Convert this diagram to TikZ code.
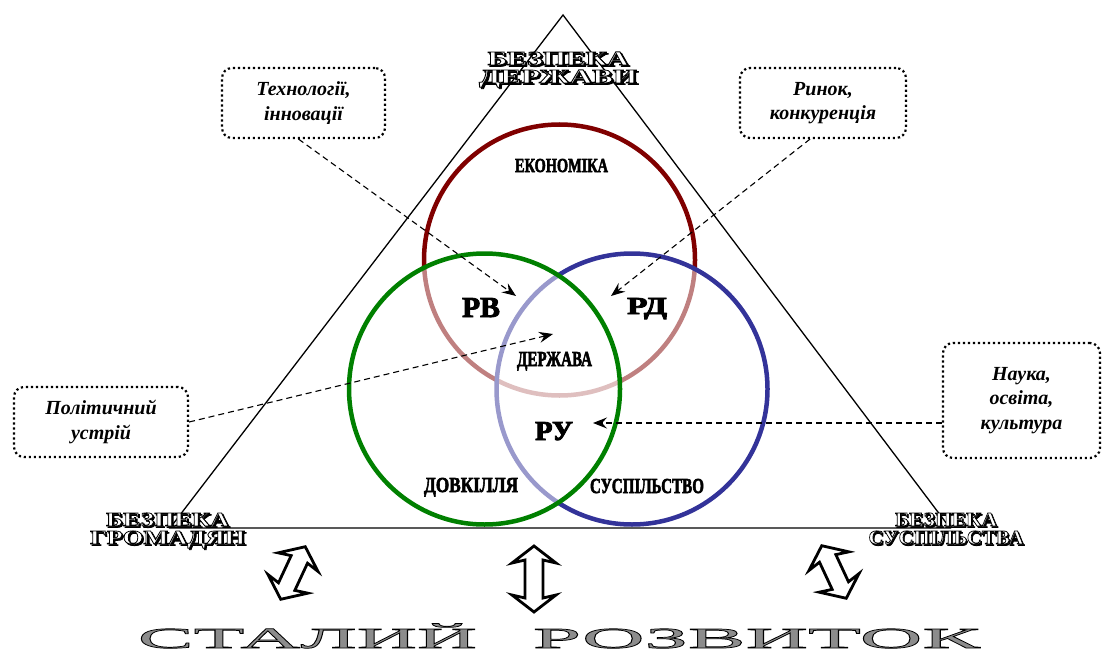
\documentclass[tikz,border=0pt]{standalone}
\usepackage{fontspec}
\setmainfont{Liberation Serif}
\newfontfamily\widefont[FakeStretch=2.0]{Liberation Serif}
\newfontfamily\semiwide[FakeStretch=1.3]{Liberation Serif}
\usepackage{graphicx}
\usetikzlibrary{arrows.meta}
\definecolor{ecored}{HTML}{800000}
\definecolor{envgreen}{HTML}{008000}
\definecolor{socblue}{HTML}{333399}
\definecolor{titlegray}{gray}{0.55}
\newcommand\fitbox[3]{\resizebox{#1}{#2}{\vphantom{Н}\smash{#3}}}
\newcommand\outl[3]{{\color{#1}\special{pdf:literal direct 0 G #2 w 2 Tr}#3\special{pdf:literal direct 0 Tr}}}
\newcommand\heavy[1]{\outl{black}{0.6}{#1}}
\newcommand\shadowed[1]{\rlap{\kern1.5pt\raisebox{-1.5pt}{\outl{black}{0.8}{#1}}}\outl{white}{0.8}{#1}}
% name, x, y (centre of the two-line block), width line 1, text 1, width line 2, text 2
\newcommand\clabel[7]{%
  \node[corner] (#1) at (#2,#3) {\fitbox{#4}{13pt}{\shadowed{#5}}\\\fitbox{#6}{13pt}{\shadowed{#7}}};}
\newcommand\blockarrow[4]{%
  \draw[blockarr, shift={(#1,#2)}, rotate=#3]
    (0,-#4) -- (22,-#4+17) -- (9,-#4+14) -- (9,#4-14) -- (22,#4-17) -- (0,#4)
    -- (-22,#4-17) -- (-9,#4-14) -- (-9,-#4+14) -- (-22,-#4+17) -- cycle;}
\begin{document}
\begin{tikzpicture}[x=1pt,y=-1pt,
  tri/.style={line width=1.3pt, line join=miter},
  ring/.style={line width=4.5pt},
  note/.style={draw, line width=2.2pt, dash pattern=on 2.2pt off 2.8pt,
    rounded corners=10pt, font=\bfseries\itshape\fontsize{20}{24.5}\selectfont,
    align=center, inner sep=0pt},
  link/.style={line width=1.1pt, dash pattern=on 6pt off 4pt,
    -{Stealth[length=14pt,width=11pt,inset=5pt]}},
  lbl/.style={font=\bfseries\fontsize{20}{22}\selectfont, anchor=base, inner sep=0pt},
  corner/.style={font=\semiwide\bfseries\fontsize{20}{18}\selectfont, align=center,
    anchor=center, inner sep=0pt},
  title/.style={font=\widefont\fontsize{28}{30}\selectfont, anchor=base, inner sep=0pt},
  blockarr/.style={draw, fill=white, line width=2.8pt, line join=miter}]
\useasboundingbox (0,0) rectangle (1102,655);
\fill[white] (0,0) rectangle (1102,655);

% triangle
\coordinate (apex) at (563,15);
\coordinate (bl) at (170,528);
\coordinate (br) at (950,528);
\draw[tri] (apex) -- (bl) -- (br) -- cycle;

% circles
\node[draw=ecored, ring, circle, minimum size=271pt, inner sep=0pt] (eco) at (559.5,260) {};
\node[draw=socblue, ring, circle, minimum size=271pt, inner sep=0pt, fill=white, fill opacity=0.5, draw opacity=1] (soc) at (632,389) {};
\node[draw=envgreen, ring, circle, minimum size=271pt, inner sep=0pt, fill=white, fill opacity=0.5, draw opacity=1] (env) at (484.5,389) {};

% circle labels
\node[lbl] (ekon) at (561.5,172) {\fitbox{93pt}{13pt}{\heavy{ЕКОНОМІКА}}};
\node[lbl] (rv) at (481,317) {\fitbox{38pt}{19pt}{\heavy{РВ}}};
\node[lbl] (rd) at (647,314) {\fitbox{40pt}{16pt}{\heavy{РД}}};
\node[lbl] (derzh) at (554.5,366) {\fitbox{75pt}{14pt}{\heavy{ДЕРЖАВА}}};
\node[lbl] (ru) at (554,440) {\fitbox{38pt}{18pt}{\heavy{РУ}}};
\node[lbl] (dovk) at (471,492) {\fitbox{94pt}{14pt}{\heavy{ДОВКІЛЛЯ}}};
\node[lbl] (susp) at (647,493) {\fitbox{114pt}{14pt}{\heavy{СУСПІЛЬСТВО}}};

% corner labels
\clabel{bdz}{558}{67.5}{141pt}{БЕЗПЕКА}{158pt}{ДЕРЖАВИ}
\clabel{bgr}{167.5}{528.5}{123pt}{БЕЗПЕКА}{155pt}{ГРОМАДЯН}
\clabel{bsu}{946}{528.5}{102pt}{БЕЗПЕКА}{155pt}{СУСПІЛЬСТВА}

% notes
\node[note, minimum width=163pt, minimum height=70pt] (tech) at (303.5,103) {Технології,\\інновації};
\node[note, minimum width=166pt, minimum height=70pt] (market) at (823,103) {Ринок,\\конкуренція};
\node[note, minimum width=174pt, minimum height=70pt] (polit) at (101,422) {Політичний\\устрій};
\node[note, minimum width=157pt, minimum height=115pt] (sci) at (1021.5,400.5) {Наука,\\освіта,\\культура};

% connector targets
\coordinate (tRB) at (516,296);
\coordinate (tRD) at (611,296);
\coordinate (tDZ) at (553,334);
\coordinate (tRU) at (593,423);

\draw[link] ([xshift=-5pt]tech.south) -- (tRB);
\draw[link] ([xshift=-13pt]market.south) -- (tRD);
\draw[link] (polit.east) -- (tDZ);
\draw[link] (sci.west |- tRU) -- (tRU);

% block double arrows
\blockarrow{293}{573}{-25}{29}
\blockarrow{534}{579}{0}{33}
\blockarrow{834}{572}{25}{29}

% title
\node[title] (t1) at (307.5,648) {\fitbox{339pt}{19pt}{\outl{titlegray}{0.7}{СТАЛИЙ}}};
\node[title] (t2) at (756.5,648) {\fitbox{447pt}{19pt}{\outl{titlegray}{0.7}{РОЗВИТОК}}};
\end{tikzpicture}
\end{document}
